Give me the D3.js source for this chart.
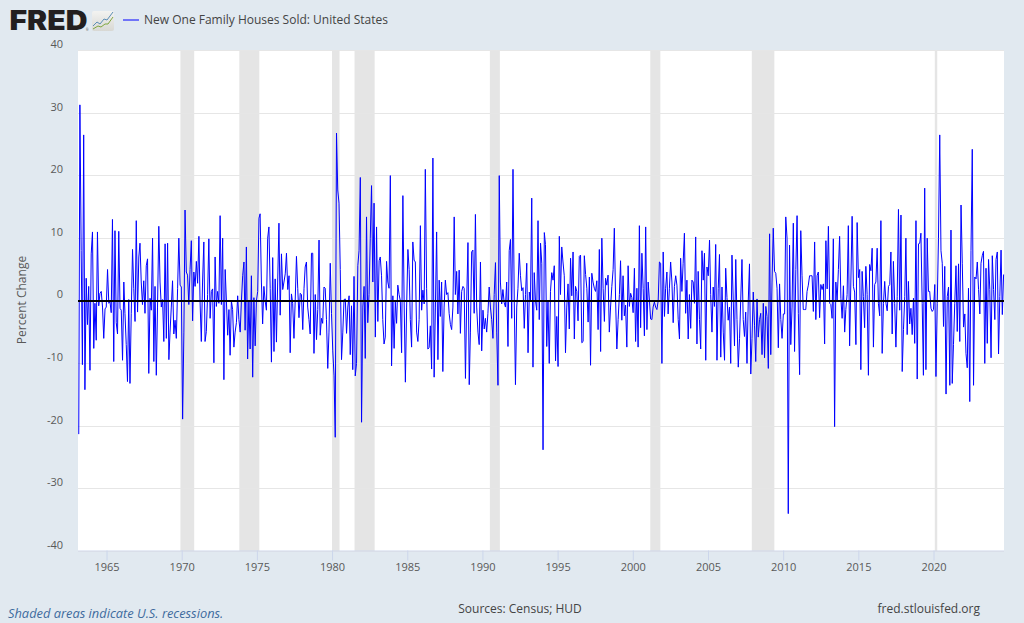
<!DOCTYPE html>
<html><head><meta charset="utf-8">
<script src="https://cdn.jsdelivr.net/npm/d3@7/dist/d3.min.js"></script>
<style>html,body{margin:0;padding:0;background:#e1e9f0;overflow:hidden}svg{display:block}text{font-family:"Open Sans",sans-serif}</style>
</head><body><svg id="c" width="1024" height="623"></svg>
<script>
const seriesName = "New One Family Houses Sold: United States";
const firstMonth = [1963, 1]; // Feb 1963
const changes1963 = [-21.3,31.3,8,-10.2,26.5,-14.2,3.6,-3.8,2.3,-11.1,7.5,11,-7.6,-0.4,-6.3,11,-0.8,1.2,1.5,-1,-6,-1.3,-1,5,-0.4,-0.1,-1.9,13,-9.7,11.2,-3.5,-5.3,11.1,-1.2,-1.5,-9.5,3,-2,-7,-12.9,0.2,-13.2,-2,8.2,2,-3.3,12.8,-1.8,7,9.2,3,-0.6,3.2,-2,5.6,6.7,-11.6,0.4,-1.5,10,-9.7,2.3,-11.9,-1,11.9,3,-1,0.2,-6.5,9.1,-6,9.2,-9.4,-5,-1,3.2,-5.3,-3.1,-6,2,10,2.5,2.2,-18.9,-5,14.5,4.6,4.1,-0.6,5,9.6,-3.2,4.6,2.3,6.3,2.8,10.3,0,-6.5,3,9.4,-6.5,-4.9,1,9.9,-2.8,1.5,1.9,-9.9,7,-0.9,1.5,-0.4,13.6,-0.6,10,-12.6,5,0,-5.5,-1.4,-8.7,0,-1.4,-7.4,-5,-3.5,0.8,-3,-5,0,4,6.2,-4.7,8.6,-9.3,0,-7.7,4,-12.2,0.5,-7.2,0,1.5,13.2,13.9,3,-3.7,2.3,0,-1.5,10,11.8,2,-9.8,6.9,-8.1,3.5,-6.6,3,12.4,-2.3,7.5,1.8,3,4.3,7.6,1.8,4,-8.3,1.1,-0.4,-6,0,7.1,2,-2.7,1.2,1,-4.6,2,5.4,6.2,-1,-3,-5.3];
const changes1978 = [7.6,7.6,-8.4,1,-6.2,-1.4,9.7,-5.5,-2.8,-3.6,2.2,2,-3,-10.8,-5,6,-2,-8,-12,-21.8,26.8,17.7,15.6,5,-9.4,-5,0.2,0.3,-5.2,-1,0.8,-8.6,-0.8,-11,3.9,-12,-10,5.6,8,19.7,-19.4,-1,2.3,-9.2,13.4,-3.5,1,10,18.4,3,15.6,-5.8,11.8,-3.3,6.4,7,4,-3,-6.9,-5.8,6.3,3,2,20,-10.4,0.8,-7.6,-0.2,-3.6,2.5,1,0,-8.3,16.8,0,-13,-1,8.2,5,-3,-7.4,9.4,6.5,6.2,-5,-6.5,-3,12,-1.5,1.7,-0.5,21,2,-7.7,-7.5,-4,-10.9,22.8,-12.2,-1,11,-9.4,3.3,-2.5,3,-11.3,-1,3.3,1,1.3,-2,-3.8,-4.6,-1,13.4,1,4.7,-2.1,4.9,-5.2,1.5,2.3,2,-12.4,0,9.3,-13.4,-5,7.8,8.1,-2,13.8,-1,-5,-7,6.2,-8,-1.5,-4.5,-2.8,-5,-2,2.2,-1,-3,-6,1,6.1,-5,-13.5,20,3,-0.5,1.8,-0.3,-1,3,-7.3,8,9.8,-2.8,21,0,-13.4,-1,2,7.6,4,1.6,2.1,-4.4,1,6,-8.3,1.4,0,16.4,-10.6,4.5,0,-1.5,12.8,-3,9.2,6,-23.8,10.9,9,-7.3,0,-10];
const changes1994 = [1.5,4.5,3.3,5.6,-9.6,-2.5,-10.5,10.3,1,8.6,6.2,4,-8.3,-1,2.7,-4.5,6.8,0.8,7.8,-6.1,2.3,1.5,-3.2,7.1,7.3,-6.7,-6.5,7.2,4.2,2,-3.4,3.8,-10.3,4.4,3,2,1.5,3.2,-4.6,8.2,-8.1,10,2,-3.3,3.6,2.5,4.1,-5,-1,2.3,5,11.6,0,-7.7,-3,1,6.4,-3.1,4,-2.4,-0.7,-7.4,5.6,-0.9,1.2,0.5,-1.9,5.2,-6.5,2,-7.4,12,-4.3,7.6,2,-5.6,11.8,-4.6,3,0,-2.9,-3,-1,-0.2,-1,-1.4,0,6.2,6,-10,7.8,-2.5,2,4.6,-2.1,2,6.2,3,-3.5,2.3,4,2.5,-3,-6.1,6.8,1.5,6,10.8,-2,3.3,-6.1,1,-4.4,3.3,3,-0.4,10.2,-6.9,4.7,-3,-7.7,8,3.3,7.6,-9.5,5.4,4,9.7,1,-5,2.2,-0.9,9,-9.5,2,7.4,-9,2.2,-5,-9.5,5.2,0.5,-3.1,-1,-10,7.3,0,-7.2,6.6,-3,-10.6,-6,0,6.6,-3,-5.7,-1.8,-10,0,5.9,-11.7,-6,1.4,-4,-9.7,0.3,-5.8,-3,-2,-8.6,-0.4,-9.1,-0.9,-2.5,-10.8,10.7,-8.6,3,11.6,4.7,4.4,2,-7.5,2.7,-3,-6,-2.1,-2.1,13.4,10,-34];
const changes2010 = [8.9,-7,-1,12.4,-8.1,5,13.6,-2,-11.8,11.2,4,-1.4,-1.4,-1.4,1.5,2.5,4,4,4,-1.7,9.4,-3,4,4.6,-2.7,2.6,1.8,2.7,-6.9,9.6,1.9,11.9,-0.4,-0.6,-2.8,9.9,-20.1,3,0,5,10.3,0.4,-2.8,2.4,-5,-1.4,1,12,-7.2,3,13.5,2.3,1.4,-7,12.5,3.7,5,-11,4.7,0.7,-4.3,5.5,1,-11.9,5.8,4.8,8.4,-7.4,2.6,3,8.4,-0.4,-2.4,12.8,-8.4,-0.4,3.1,-0.4,-1.6,2.3,2.6,7.8,-5.3,6.3,-0.4,-7.4,0.7,14.6,-1.5,13.7,-11.3,-4.6,0.7,10,-5.4,3.1,-3.7,-1.2,-5.4,0.4,-6.8,12.8,-12.5,9.1,9.2,10.8,-0.4,-11.9,18,-11,10,1.5,1.5,-1.2,-1.7,-1.4,2.6,-12.1,-0.4,10,26.5,8,6,-4.1,5.5,-14.9,0.7,2.2,-13.5,11.3,-13.2,-7,-0.4,5.6,-4.9,5.9,-6.5,15.3,6,-4.2,-2.1,-8.4,-10.7,2,-16.1,8,24.2,-13.5,3.8,3.5,6.2,1.8,-2.1,6,7.2,7.9,-10,5.2,-6.8,6.6,1.8,-9.1,7.2,1.8,-3,6.6,7.8,-8.5,0.7,8.1,-2.2,4.2];
const yTicks = [-40,-30,-20,-10,0,10,20,30,40];
const xTickYears = [1965,1970,1975,1980,1985,1990,1995,2000,2005,2010,2015,2020];
const recessionStarts = ["1969-12","1973-11","1980-01","1981-07","1990-07","2001-03","2007-12","2020-02"];
const recessionEnds   = ["1970-11","1975-03","1980-07","1982-11","1991-03","2001-11","2009-06","2020-04"];

const values = [...changes1963, ...changes1978, ...changes1994, ...changes2010];
const start = new Date(firstMonth[0], firstMonth[1], 1);
const pts = values.map((v,i)=>({d:d3.timeMonth.offset(start,i),v}));
const end = new Date(2024,8,1);

const L=78,R=1004,T=50,B=551;
const svg=d3.select("#c");
const x=d3.scaleTime().domain([start,end]).range([77.7,1003.7]);
const xLine=d3.scaleTime().domain([start,end]).range([78.75,1003.6]);
const y=d3.scaleLinear().domain([-40,40]).range([551.2,50.4]);
const parse=d3.timeParse("%Y-%m");

svg.append("rect").attr("width",1024).attr("height",623).attr("fill","#e1e9f0");
svg.append("rect").attr("x",L).attr("y",T).attr("width",R-L).attr("height",B-T).attr("fill","#fff");

// recessions
svg.append("g").selectAll("rect").data(recessionStarts).join("rect")
  .attr("x",(s)=>x(parse(s)))
  .attr("width",(s,i)=>x(parse(recessionEnds[i]))-x(parse(s)))
  .attr("y",T).attr("height",B-T).attr("fill","#e5e5e5");

// grid
svg.append("g").selectAll("line").data(yTicks).join("line")
  .attr("x1",L).attr("x2",R).attr("y1",d=>Math.floor(y(d))+0.5).attr("y2",d=>Math.floor(y(d))+0.5)
  .attr("stroke","#e6e6e6").attr("stroke-width",1);

// series
const line=d3.line().x(d=>xLine(d.d)).y(d=>y(d.v));
svg.append("path").datum(pts).attr("d",line).attr("fill","none").attr("stroke","#0000ff").attr("stroke-width",1).attr("stroke-linejoin","round");

// zero line
svg.append("line").attr("x1",L).attr("x2",R).attr("y1",Math.round(y(0))).attr("y2",Math.round(y(0))).attr("stroke","#000").attr("stroke-width",2);

// x axis
const xAxis=d3.axisBottom(x).tickValues(xTickYears.map(yr=>new Date(yr,0,1))).tickFormat(d3.timeFormat("%Y")).tickSize(10).tickPadding(0);
const gx=svg.append("g").attr("transform",`translate(0,${B-0.5})`).call(xAxis);
gx.select(".domain").attr("stroke","#ccd6eb").attr("d",`M${L},0.5H${R}`);
gx.selectAll(".tick line").attr("stroke","#ccd6eb");
gx.selectAll(".tick text").attr("fill","#595959").attr("y",14).attr("dy","6").style("font-size","11px").style("font-family",'"Open Sans",sans-serif');

// y axis
const yAxis=d3.axisLeft(y).tickValues(yTicks).tickFormat(d=>String(d)).tickSize(0).tickPadding(0);
const gy=svg.append("g").attr("transform",`translate(63,0)`).call(yAxis);
gy.select(".domain").remove();
gy.selectAll(".tick text").attr("fill","#595959").attr("dy","-3").style("font-size","11px").style("font-family",'"Open Sans",sans-serif');

svg.append("text").attr("transform","translate(26,300) rotate(-90)").attr("text-anchor","middle").attr("fill","#595959").style("font-size","12px").text("Percent Change");

// legend
svg.append("line").attr("x1",123).attr("x2",139).attr("y1",20).attr("y2",20).attr("stroke","#0000ff").attr("stroke-width",1);
svg.append("text").attr("x",144).attr("y",24).attr("fill","#444").style("font-size","12px").text(seriesName);

// FRED logo
svg.append("text").attr("x",9.5).attr("y",30).attr("fill","#231f20").style("font-family","Inter,sans-serif").style("font-size","26.5px").style("font-weight",900).attr("textLength",78).attr("lengthAdjust","spacingAndGlyphs").text("FRED");
svg.append("text").attr("x",86).attr("y",31).attr("fill","#444").style("font-size","3px").text("®");
const defs=svg.append("defs");
const g=defs.append("linearGradient").attr("id","ig").attr("x1",0).attr("y1",0).attr("x2",0).attr("y2",1);
g.append("stop").attr("offset",0).attr("stop-color","#f3f3f1");
g.append("stop").attr("offset",1).attr("stop-color","#d8d8d4");
svg.append("rect").attr("x",92).attr("y",11).attr("width",22).attr("height",20).attr("rx",2).attr("fill","url(#ig)");
svg.append("path").attr("d","M93,26 L97,22 L100,24 L104,19 L107,20 L113,12").attr("fill","none").attr("stroke","#5b8db5").attr("stroke-width",1);
svg.append("path").attr("d","M93,29 L98,26 L101,27 L105,24 L108,24 L113,17").attr("fill","none").attr("stroke","#7fa63f").attr("stroke-width",1);

// footer
svg.append("text").attr("x",8).attr("y",618).attr("fill","#3e6b9e").style("font-size","12.85px").style("font-style","italic").text("Shaded areas indicate U.S. recessions.");
svg.append("text").attr("x",520).attr("y",613).attr("text-anchor","middle").attr("fill","#444").style("font-size","12px").text("Sources: Census; HUD");
svg.append("text").attr("x",980).attr("y",613).attr("text-anchor","end").attr("fill","#444").style("font-size","12px").text("fred.stlouisfed.org");
</script></body></html>
